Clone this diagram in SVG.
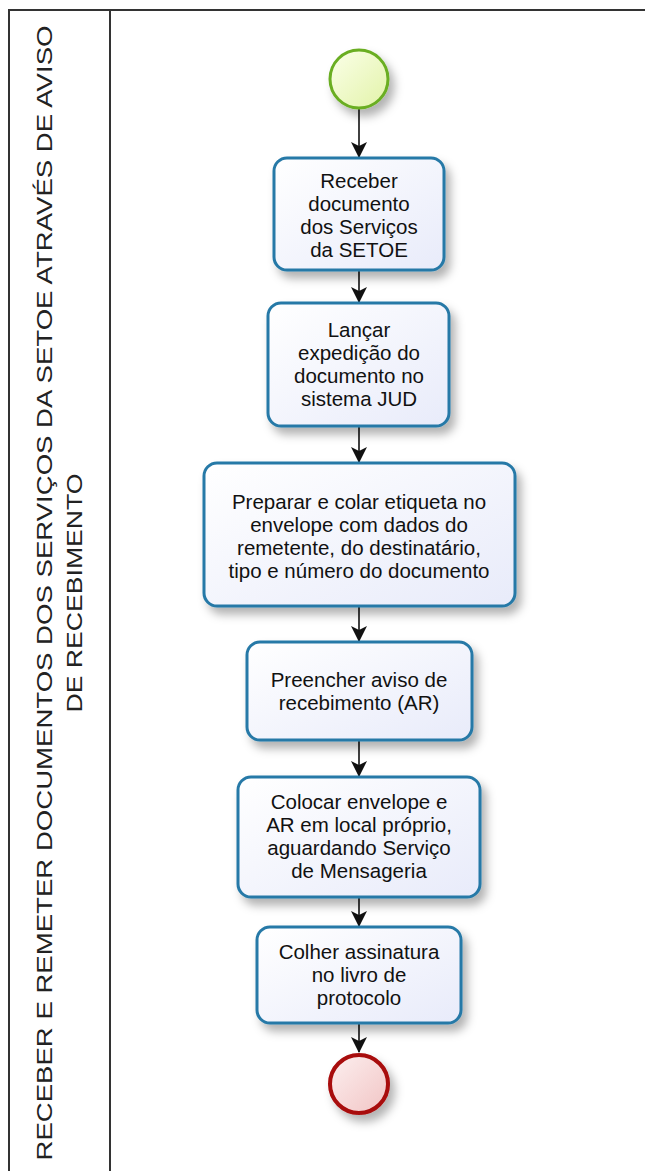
<svg xmlns="http://www.w3.org/2000/svg" width="645" height="1171" viewBox="0 0 645 1171">
  <defs>
    <style>
      .frame { stroke: #333; stroke-width: 2; fill: none; }
      .title { font-family: "Liberation Sans", Arial, sans-serif; font-size: 22px; fill: #222; }
      .task rect { fill: url(#taskFill); stroke: #2779a7; stroke-width: 3; filter: url(#shadow); }
      .task text { font-family: "Liberation Sans", Arial, sans-serif; font-size: 20.5px; fill: #111; text-anchor: middle; }
      .flow line { stroke: #111; stroke-width: 1.6; marker-end: url(#arrow); }
    </style>
    <linearGradient id="taskFill" x1="0" y1="0" x2="1" y2="1">
      <stop offset="0" stop-color="#ffffff"/>
      <stop offset="1" stop-color="#e8ebfa"/>
    </linearGradient>
    <linearGradient id="startFill" x1="0" y1="0" x2="1" y2="1">
      <stop offset="0" stop-color="#fbffe9"/>
      <stop offset="1" stop-color="#e2f3a8"/>
    </linearGradient>
    <linearGradient id="endFill" x1="0" y1="0" x2="1" y2="1">
      <stop offset="0" stop-color="#fdf0f0"/>
      <stop offset="1" stop-color="#f1c4c4"/>
    </linearGradient>
    <filter id="shadow" x="-20%" y="-20%" width="150%" height="160%">
      <feDropShadow dx="5" dy="7" stdDeviation="5" flood-color="#000" flood-opacity="0.3"/>
    </filter>
    <marker id="arrow" viewBox="0 0 16 16" refX="15" refY="8" markerWidth="16" markerHeight="16" markerUnits="userSpaceOnUse" orient="auto">
      <path d="M0,0 L16,8 L0,16 L4,8 Z" fill="#111"/>
    </marker>
  </defs>

  <!-- pool frame and lane header -->
  <g id="pool">
    <line class="frame" x1="9" y1="10" x2="645" y2="10"/>
    <line class="frame" x1="9" y1="9" x2="9" y2="1171"/>
    <line class="frame" x1="110" y1="10" x2="110" y2="1171"/>
    <g transform="translate(0,593) rotate(-90)">
      <text class="title" x="0" y="52" text-anchor="middle" textLength="1135" lengthAdjust="spacingAndGlyphs">RECEBER E REMETER DOCUMENTOS DOS SERVIÇOS DA SETOE ATRAVÉS DE AVISO</text>
      <text class="title" x="0" y="82" text-anchor="middle" textLength="239" lengthAdjust="spacingAndGlyphs">DE RECEBIMENTO</text>
    </g>
  </g>

  <!-- sequence flows -->
  <g id="flows" class="flow">
    <line x1="359" y1="109" x2="359" y2="157"/>
    <line x1="359" y1="271" x2="359" y2="302"/>
    <line x1="359" y1="427" x2="359" y2="462"/>
    <line x1="359" y1="607" x2="359" y2="641"/>
    <line x1="359" y1="741" x2="359" y2="776"/>
    <line x1="359" y1="898" x2="359" y2="926"/>
    <line x1="359" y1="1024" x2="359" y2="1052"/>
  </g>

  <!-- start event -->
  <g id="start">
    <circle cx="359" cy="79" r="29" fill="url(#startFill)" stroke="#6aae22" stroke-width="3" filter="url(#shadow)"/>
  </g>

  <g id="task1" class="task">
    <rect x="274" y="158" width="170" height="112" rx="13"/>
    <text x="359" y="188">Receber</text>
    <text x="359" y="211">documento</text>
    <text x="359" y="234">dos Serviços</text>
    <text x="359" y="257">da SETOE</text>
  </g>

  <g id="task2" class="task">
    <rect x="268" y="303" width="181" height="123" rx="13"/>
    <text x="359" y="337">Lançar</text>
    <text x="359" y="360">expedição do</text>
    <text x="359" y="383">documento no</text>
    <text x="359" y="406">sistema JUD</text>
  </g>

  <g id="task3" class="task">
    <rect x="204" y="463" width="311" height="143" rx="13"/>
    <text x="359" y="509">Preparar e colar etiqueta no</text>
    <text x="359" y="532">envelope com dados do</text>
    <text x="359" y="555">remetente, do destinatário,</text>
    <text x="359" y="578">tipo e número do documento</text>
  </g>

  <g id="task4" class="task">
    <rect x="247" y="642" width="225" height="98" rx="13"/>
    <text x="359" y="687">Preencher aviso de</text>
    <text x="359" y="710">recebimento (AR)</text>
  </g>

  <g id="task5" class="task">
    <rect x="238" y="777" width="242" height="120" rx="13"/>
    <text x="359" y="809">Colocar envelope e</text>
    <text x="359" y="832">AR em local próprio,</text>
    <text x="359" y="855">aguardando Serviço</text>
    <text x="359" y="878">de Mensageria</text>
  </g>

  <g id="task6" class="task">
    <rect x="257" y="927" width="204" height="96" rx="13"/>
    <text x="359" y="959">Colher assinatura</text>
    <text x="359" y="982">no livro de</text>
    <text x="359" y="1005">protocolo</text>
  </g>

  <!-- end event -->
  <g id="end">
    <circle cx="359" cy="1084" r="29" fill="url(#endFill)" stroke="#a80808" stroke-width="4" filter="url(#shadow)"/>
  </g>
</svg>
